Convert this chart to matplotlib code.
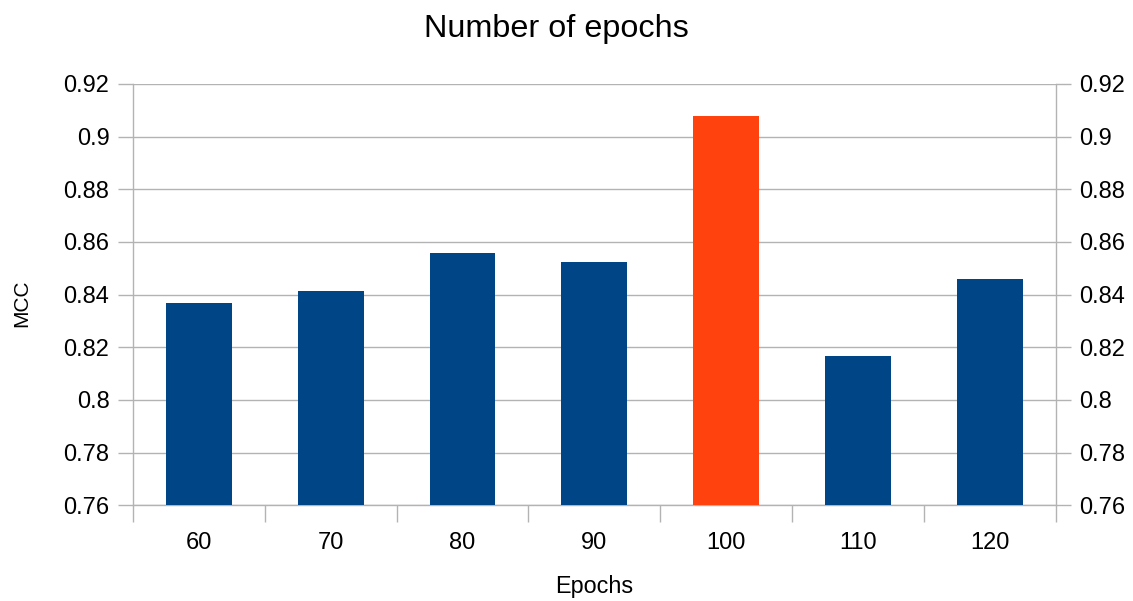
import matplotlib
matplotlib.use("Agg")
import matplotlib.pyplot as plt
from matplotlib.ticker import FixedLocator, FixedFormatter

# MCC reached for each number of training epochs
epochs = ["60", "70", "80", "90", "100", "110", "120"]
mcc = [0.837, 0.8415, 0.8557, 0.8525, 0.9078, 0.8167, 0.8461]
best_epoch = "100"

y_ticks = [0.76, 0.78, 0.80, 0.82, 0.84, 0.86, 0.88, 0.90, 0.92]
y_tick_labels = ["0.76", "0.78", "0.8", "0.82", "0.84", "0.86", "0.88", "0.9", "0.92"]

BLUE = "#004586"
ORANGE = "#ff420e"
GRID = "#b3b3b3"

plt.rcParams["font.family"] = ["Liberation Sans", "DejaVu Sans"]

W, H = 1133, 601
fig = plt.figure(figsize=(W / 100, H / 100), dpi=100)
ax = fig.add_axes([133 / W, (H - 505.3) / H, (1055.7 - 133) / W, (505.3 - 84) / H])

x = list(range(len(epochs)))
colors = [ORANGE if e == best_epoch else BLUE for e in epochs]
ax.bar(x, mcc, width=0.5, color=colors, zorder=3)

ax.set_xlim(-0.5, len(epochs) - 0.5)
ax.set_ylim(y_ticks[0], y_ticks[-1])

# y axis: ticks and labels on both sides, grid across the plot
ax.yaxis.set_major_locator(FixedLocator(y_ticks))
ax.yaxis.set_major_formatter(FixedFormatter(y_tick_labels))
ax.tick_params(axis="y", which="major", left=True, right=True, labelleft=True,
               labelright=True, length=11, width=1.0, color=GRID, pad=6,
               labelsize=17, labelcolor="black")
ax.grid(axis="y", color=GRID, linewidth=1.0, zorder=0)

# x axis: category labels centred, tick marks at category boundaries
ax.set_xticks(x)
ax.set_xticklabels(epochs)
ax.tick_params(axis="x", which="major", length=0, pad=19, labelsize=17)
ax.set_xticks([i - 0.5 for i in range(len(epochs) + 1)], minor=True)
ax.tick_params(axis="x", which="minor", length=12, width=1.0, color=GRID)

for side in ("left", "right", "bottom"):
    ax.spines[side].set_color(GRID)
    ax.spines[side].set_linewidth(1.0)
ax.spines["top"].set_visible(False)

fig.text(556.5 / W, (H - 36.5) / H, "Number of epochs", ha="center",
         va="baseline", fontsize=23.3)
fig.text(594.5 / W, (H - 593) / H, "Epochs", ha="center", va="baseline",
         fontsize=16.8)
fig.text(22 / W, (H - 303) / H, "MCC", ha="center", va="center",
         rotation=90, fontsize=15)

fig.savefig("out.png", dpi=100, facecolor="white")
